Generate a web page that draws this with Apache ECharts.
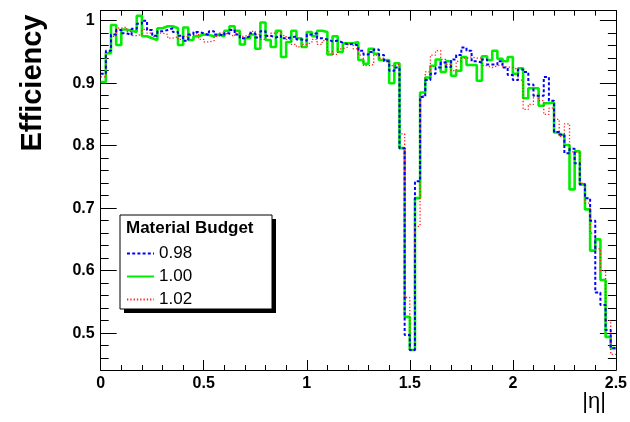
<!DOCTYPE html>
<html>
<head>
<meta charset="utf-8">
<title>Efficiency vs |η|</title>
<script src="https://cdn.jsdelivr.net/npm/echarts@6/dist/echarts.min.js"></script>
<style>
  html, body { margin: 0; padding: 0; background: #fff; }
  #chart { width: 630px; height: 422px; }
</style>
</head>
<body>
<div id="chart"></div>
<script>
// |eta| histogram: 100 bins of width 0.025 from 0 to 2.5
const etaMin = 0;
const etaMax = 2.5;
const binWidth = 0.025;

// Efficiency per bin, one list per material budget scale
const eff098 = [
  0.915, 0.952, 0.978, 0.985, 0.980, 0.977, 0.987, 0.995, 1.000, 0.985,
  0.976, 0.983, 0.985, 0.988, 0.982, 0.976, 0.968, 0.978, 0.982, 0.980,
  0.977, 0.983, 0.978, 0.976, 0.980, 0.985, 0.978, 0.972, 0.975, 0.980,
  0.973, 0.983, 0.976, 0.973, 0.976, 0.972, 0.973, 0.975, 0.970, 0.968,
  0.978, 0.980, 0.972, 0.970, 0.967, 0.968, 0.965, 0.962, 0.963, 0.960,
  0.952, 0.946, 0.950, 0.954, 0.945, 0.935, 0.920, 0.925, 0.796, 0.497,
  0.473, 0.743, 0.878, 0.905, 0.915, 0.925, 0.933, 0.926, 0.938, 0.945,
  0.957, 0.952, 0.935, 0.933, 0.938, 0.930, 0.930, 0.935, 0.925, 0.913,
  0.905, 0.922, 0.918, 0.898, 0.880, 0.880, 0.910, 0.872, 0.822, 0.818,
  0.788, 0.795, 0.772, 0.738, 0.716, 0.680, 0.565, 0.545, 0.505, 0.476
];
const eff100 = [
  0.902, 0.948, 0.993, 0.961, 0.986, 0.984, 0.982, 1.008, 0.975, 0.972,
  0.969, 0.988, 0.991, 0.991, 0.988, 0.961, 0.989, 0.969, 0.975, 0.978,
  0.977, 0.975, 0.978, 0.975, 0.984, 0.991, 0.984, 0.962, 0.972, 0.978,
  0.955, 0.997, 0.969, 0.958, 0.984, 0.942, 0.966, 0.984, 0.972, 0.958,
  0.982, 0.975, 0.984, 0.982, 0.946, 0.975, 0.950, 0.964, 0.964, 0.966,
  0.937, 0.931, 0.955, 0.947, 0.937, 0.937, 0.900, 0.932, 0.796, 0.526,
  0.473, 0.716, 0.885, 0.909, 0.928, 0.938, 0.918, 0.935, 0.912, 0.920,
  0.942, 0.929, 0.929, 0.904, 0.943, 0.937, 0.952, 0.939, 0.935, 0.942,
  0.915, 0.924, 0.876, 0.892, 0.892, 0.864, 0.868, 0.869, 0.821, 0.817,
  0.801, 0.730, 0.791, 0.738, 0.698, 0.632, 0.650, 0.585, 0.494, 0.476
];
const eff102 = [
  0.910, 0.950, 0.975, 0.988, 0.990, 0.983, 0.976, 0.978, 0.986, 0.980,
  0.975, 0.980, 0.978, 0.972, 0.974, 0.970, 0.975, 0.978, 0.980, 0.970,
  0.966, 0.968, 0.975, 0.980, 0.978, 0.975, 0.980, 0.975, 0.978, 0.983,
  0.978, 0.970, 0.975, 0.980, 0.982, 0.976, 0.970, 0.962, 0.958, 0.962,
  0.965, 0.970, 0.962, 0.968, 0.950, 0.946, 0.955, 0.958, 0.962, 0.955,
  0.945, 0.928, 0.930, 0.945, 0.940, 0.936, 0.928, 0.930, 0.819, 0.557,
  0.473, 0.671, 0.880, 0.918, 0.945, 0.952, 0.938, 0.930, 0.920, 0.935,
  0.940, 0.942, 0.940, 0.940, 0.928, 0.925, 0.928, 0.930, 0.926, 0.925,
  0.922, 0.905, 0.858, 0.866, 0.880, 0.872, 0.850, 0.860, 0.842, 0.815,
  0.835, 0.790, 0.788, 0.740, 0.708, 0.660, 0.635, 0.600, 0.520, 0.466
];

const seriesNames = ['0.98', '1.00', '1.02'];
const legendTitle = 'Material Budget';

// Axis ticks
const xTicks = [0, 0.5, 1, 1.5, 2, 2.5];
const yTicks = [0.5, 0.6, 0.7, 0.8, 0.9, 1];
const yMin = 0.441;
const yMax = 1.016;
const yMinorStep = 0.02;

const yMinorTicks = [];
for (let v = 0.46; v <= 1.0001; v += yMinorStep) {
  yMinorTicks.push(Math.round(v * 1000) / 1000);
}

// Turn bin contents into step-line points (left edge of each bin, plus right edge of the last one)
function histPoints(values) {
  const pts = values.map((v, i) => [etaMin + i * binWidth, v]);
  pts.push([etaMax, values[values.length - 1]]);
  return pts;
}

const FONT = '"Liberation Sans", Arial, Helvetica, sans-serif';

const frameLine = { show: true, onZero: false, lineStyle: { color: '#000', width: 1 } };

function yAxisDef(position, values, tickLen, showLabels) {
  return {
    type: 'value',
    position: position,
    min: yMin,
    max: yMax,
    axisLine: frameLine,
    splitLine: { show: false },
    axisTick: {
      show: true, inside: true, length: tickLen,
      customValues: values,
      lineStyle: { color: '#000', width: 1 }
    },
    axisLabel: showLabels ? {
      show: true,
      customValues: yTicks,
      margin: 6,
      color: '#000',
      fontFamily: FONT,
      fontWeight: 'bold',
      fontSize: 16,
      formatter: v => (Math.abs(v - 1) < 1e-9 ? '1' : v.toFixed(1))
    } : { show: false }
  };
}

function xAxisDef(position, showLabels) {
  return {
    type: 'value',
    position: position,
    min: etaMin,
    max: etaMax,
    interval: 0.5,
    axisLine: frameLine,
    splitLine: { show: false },
    axisTick: { show: true, inside: true, length: 10, lineStyle: { color: '#000', width: 1 } },
    minorTick: { show: true, splitNumber: 5, length: 5, lineStyle: { color: '#000', width: 1 } },
    minorSplitLine: { show: false },
    axisLabel: showLabels ? {
      show: true,
      margin: 6,
      color: '#000',
      fontFamily: FONT,
      fontWeight: 'bold',
      fontSize: 16,
      formatter: v => (xTicks.indexOf(v) >= 0 ? String(v) : '')
    } : { show: false }
  };
}

const chart = echarts.init(document.getElementById('chart'), null, { renderer: 'canvas' });

const option = {
  backgroundColor: '#fff',
  animation: false,
  grid: { left: 100.7, right: 12.7, top: 10.7, bottom: 52, containLabel: false },
  xAxis: [xAxisDef('bottom', true), xAxisDef('top', false)],
  yAxis: [
    yAxisDef('left', yTicks, 16, true),
    yAxisDef('left', yMinorTicks, 8, false),
    yAxisDef('right', yTicks, 16, false),
    yAxisDef('right', yMinorTicks, 8, false)
  ],
  legend: {
    data: seriesNames,
    orient: 'vertical',
    left: 121,
    top: 240,
    itemWidth: 27,
    itemHeight: 14,
    itemGap: 6,
    z: 50,
    itemStyle: { opacity: 0 },
    textStyle: { color: '#000', fontFamily: FONT, fontSize: 17 }
  },
  graphic: [
    { type: 'rect', z: 40, shape: { x: 124, y: 219, width: 152, height: 94 }, style: { fill: '#000' } },
    { type: 'rect', z: 41, shape: { x: 120, y: 215, width: 152, height: 94 },
      style: { fill: '#fff', stroke: '#000', lineWidth: 1 } },
    { type: 'text', z: 42, x: 126, y: 228,
      style: { text: legendTitle, fill: '#000', font: 'bold 17px ' + FONT, textVerticalAlign: 'middle' } },
    { type: 'text', z: 42, x: 33, y: 83, rotation: Math.PI / 2,
      style: { text: 'Efficiency', fill: '#000', font: 'bold 29px ' + FONT,
               textAlign: 'center', textVerticalAlign: 'middle' } },
    { type: 'text', z: 42, x: 606, y: 402,
      style: { text: '|η|', fill: '#000', font: '22px ' + FONT,
               textAlign: 'right', textVerticalAlign: 'middle' } }
  ],
  series: [
    {
      name: '1.00', type: 'line', step: 'end', symbol: 'none', z: 2,
      data: histPoints(eff100),
      lineStyle: { color: '#00ee00', width: 2.6, type: 'solid' },
      itemStyle: { color: '#00ee00' }
    },
    {
      name: '1.02', type: 'line', step: 'end', symbol: 'none', z: 3,
      data: histPoints(eff102),
      lineStyle: { color: '#ff2020', width: 1.3, type: [1.3, 2] },
      itemStyle: { color: '#ff2020' }
    },
    {
      name: '0.98', type: 'line', step: 'end', symbol: 'none', z: 4,
      data: histPoints(eff098),
      lineStyle: { color: '#0000ff', width: 2, type: [3, 2.2] },
      itemStyle: { color: '#0000ff' }
    }
  ]
};

chart.setOption(option);
</script>
</body>
</html>
